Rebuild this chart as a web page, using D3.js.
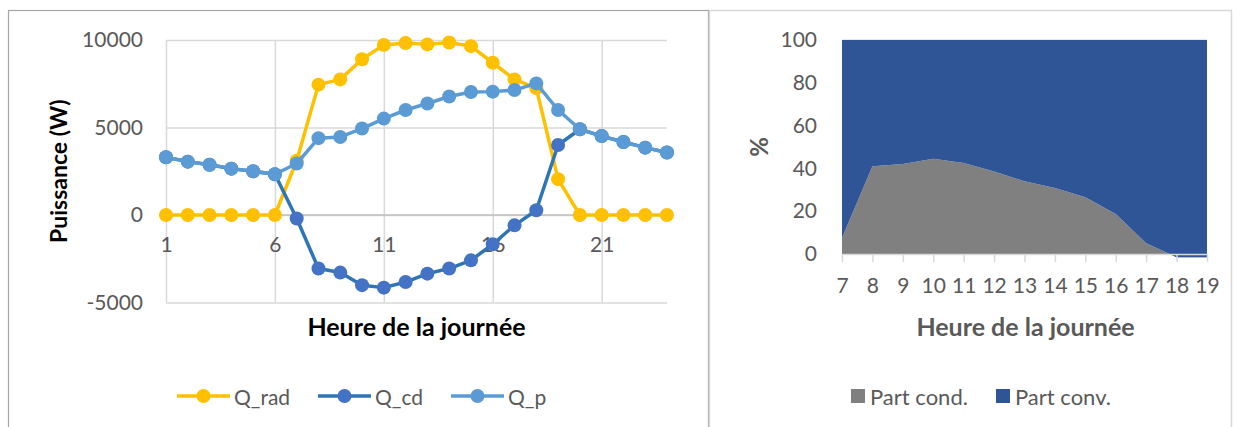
<!DOCTYPE html>
<html>
<head>
<meta charset="utf-8">
<script src="https://cdn.jsdelivr.net/npm/d3@7"></script>
<style>
  body { margin: 0; background: #fff; }
  svg { display: block; }
  text { font-family: Lato, "Open Sans", sans-serif; }
</style>
</head>
<body>
<svg id="chart" width="1252" height="427"></svg>
<script>
// ---- Left chart: heat flows over the day (W) ----
const hours = [1,2,3,4,5,6,7,8,9,10,11,12,13,14,15,16,17,18,19,20,21,22,23,24];
const qRad = [0,0,0,0,0,0,3100,7450,7750,8900,9720,9830,9750,9860,9650,8700,7750,7250,2050,0,0,0,0,0];
const qCd  = [3300,3050,2870,2650,2500,2330,-200,-3060,-3290,-4010,-4150,-3830,-3350,-3060,-2590,-1670,-590,270,4000,4900,4510,4170,3850,3570];
const qP   = [3300,3050,2870,2650,2500,2330,2940,4390,4460,4940,5510,6000,6370,6770,7030,7050,7140,7520,6000,4900,4510,4170,3850,3570];
const powerTicks = [-5000, 0, 5000, 10000];
const hourTicks = [1, 6, 11, 16, 21];

// ---- Right chart: conduction / convection shares (%) ----
const dayHours = [7,8,9,10,11,12,13,14,15,16,17,18,19];
const partCond = [7.5,41,42,44.5,42.5,38.6,34,30.8,26.5,18.7,5,-1.5,-1.5];
const partConv = [92.5,59,58,55.5,57.5,61.4,66,69.2,73.5,81.3,95,101.5,101.5];
const pctTicks = [0,20,40,60,80,100];

const svg = d3.select("#chart");
const tickGray = "#595959";
const plain = d => String(d);   // "-5000", no thousands separator

// chart frames
svg.append("rect").attr("x", 8.5).attr("y", 10.5).attr("width", 700).attr("height", 450)
  .attr("fill", "none").attr("stroke", "#a6a6a6").attr("stroke-width", 1.2);
svg.append("rect").attr("x", 709.5).attr("y", 10.5).attr("width", 522).attr("height", 450)
  .attr("fill", "none").attr("stroke", "#d9d9d9").attr("stroke-width", 1.5);

// ================= Left chart =================
const L = { x0: 166, x1: 667, yTop: 40, yBot: 302.5 };
const x1 = d3.scalePoint().domain(hours).range([L.x0, L.x1]);
const y1 = d3.scaleLinear().domain([-5000, 10000]).range([L.yBot, L.yTop]);

const gL = svg.append("g");

// horizontal gridlines
gL.append("g").attr("transform", `translate(${L.x0},0)`)
  .call(d3.axisLeft(y1).tickValues(powerTicks).tickSize(-(L.x1 - L.x0)).tickFormat(""))
  .call(g => g.select(".domain").remove())
  .call(g => g.selectAll("line").attr("stroke", "#d9d9d9").attr("stroke-width", 1.5));

// vertical gridlines
gL.append("g").attr("transform", `translate(0,${L.yBot})`)
  .call(d3.axisBottom(x1).tickValues(hourTicks).tickSize(-(L.yBot - L.yTop)).tickFormat(""))
  .call(g => g.select(".domain").remove())
  .call(g => g.selectAll("line").attr("stroke", "#d9d9d9").attr("stroke-width", 1.5));

// horizontal axis line at zero
gL.append("line").attr("x1", L.x0).attr("x2", L.x1).attr("y1", y1(0)).attr("y2", y1(0))
  .attr("stroke", "#bfbfbf").attr("stroke-width", 1.5);

// y tick labels
gL.append("g").attr("transform", `translate(${L.x0},0)`)
  .call(d3.axisLeft(y1).tickValues(powerTicks).tickFormat(plain).tickSize(0).tickPadding(23))
  .call(g => g.select(".domain").remove())
  .call(g => g.selectAll("text").attr("fill", tickGray).style("font-size", "21px").attr("font-family", null));

// x tick labels (axis crosses at zero)
gL.append("g").attr("transform", `translate(0,${y1(0)})`)
  .call(d3.axisBottom(x1).tickValues(hourTicks).tickFormat(plain).tickSize(0).tickPadding(22))
  .call(g => g.select(".domain").remove())
  .call(g => g.selectAll("text").attr("fill", tickGray).style("font-size", "21px").attr("font-family", null));

const series = [
  { name: "Q_rad", values: qRad, line: "#FFC000", marker: "#FFC000" },
  { name: "Q_cd",  values: qCd,  line: "#2E75B6", marker: "#4472C4" },
  { name: "Q_p",   values: qP,   line: "#5B9BD5", marker: "#5B9BD5" }
];

const lineGen = d3.line().x((d, i) => x1(hours[i])).y(d => y1(d));

series.forEach(s => {
  const g = gL.append("g");
  g.append("path").datum(s.values).attr("d", lineGen)
    .attr("fill", "none").attr("stroke", s.line).attr("stroke-width", 3.5).attr("stroke-linejoin", "round");
  g.selectAll("circle").data(s.values).join("circle")
    .attr("cx", (d, i) => x1(hours[i])).attr("cy", d => y1(d)).attr("r", 7)
    .attr("fill", s.marker);
});

// axis titles
gL.append("text").attr("transform", `translate(58,${(L.yTop + L.yBot) / 2}) rotate(-90)`)
  .attr("text-anchor", "middle").attr("dominant-baseline", "central")
  .style("font-size", "23px").style("font-weight", "bold").attr("fill", "#000")
  .text("Puissance (W)");
gL.append("text").attr("x", (L.x0 + L.x1) / 2).attr("y", 326)
  .attr("text-anchor", "middle").attr("dominant-baseline", "central")
  .style("font-size", "25px").style("font-weight", "bold").attr("fill", "#000")
  .text("Heure de la journée");

// legend
const legL = [
  { s: series[0], x: 177 },
  { s: series[1], x: 318 },
  { s: series[2], x: 451 }
];
legL.forEach(({ s, x }) => {
  const g = gL.append("g").attr("transform", `translate(${x},396)`);
  g.append("line").attr("x1", 0).attr("x2", 53).attr("stroke", s.line).attr("stroke-width", 3.5);
  g.append("circle").attr("cx", 26.5).attr("r", 7).attr("fill", s.marker);
  g.append("text").attr("x", 57).attr("dominant-baseline", "central")
    .style("font-size", "21px").attr("fill", tickGray).text(s.name);
});

// ================= Right chart =================
const R = { x0: 842, x1: 1207, yTop: 40, yBot: 254 };
const x2 = d3.scalePoint().domain(dayHours).range([R.x0, R.x1]);
const y2 = d3.scaleLinear().domain([0, 100]).range([R.yBot, R.yTop]);
const gR = svg.append("g");

gR.append("line").attr("x1", R.x0).attr("x2", R.x1).attr("y1", y2(100)).attr("y2", y2(100))
  .attr("stroke", "#e6dfd5").attr("stroke-width", 1.5);

const stackData = dayHours.map((h, i) => ({ h, cond: partCond[i], conv: partConv[i] }));
const areaCond = d3.area().x(d => x2(d.h)).y0(y2(0)).y1(d => y2(d.cond));
const areaConv = d3.area().x(d => x2(d.h)).y0(d => y2(d.cond)).y1(d => y2(d.cond + d.conv));

gR.append("path").datum(stackData).attr("d", areaCond).attr("fill", "#808080");
gR.append("path").datum(stackData).attr("d", areaConv).attr("fill", "#2F5597");

// x axis with tick marks
gR.append("g").attr("transform", `translate(0,${R.yBot})`)
  .call(d3.axisBottom(x2).tickValues(dayHours).tickFormat(plain).tickSize(8).tickSizeOuter(0).tickPadding(16))
  .call(g => g.select(".domain").attr("stroke", "#d9d9d9").attr("stroke-width", 1.5))
  .call(g => g.selectAll(".tick line").attr("stroke", "#d9d9d9").attr("stroke-width", 1.5))
  .call(g => g.selectAll("text").attr("fill", tickGray).style("font-size", "21px").attr("font-family", null));

// y tick labels
gR.append("g").attr("transform", `translate(${R.x0},0)`)
  .call(d3.axisLeft(y2).tickValues(pctTicks).tickFormat(plain).tickSize(0).tickPadding(25))
  .call(g => g.select(".domain").remove())
  .call(g => g.selectAll("text").attr("fill", tickGray).style("font-size", "21px").attr("font-family", null));

gR.append("text").attr("transform", `translate(758,${(R.yTop + R.yBot) / 2}) rotate(-90)`)
  .attr("text-anchor", "middle").attr("dominant-baseline", "central")
  .style("font-size", "24px").style("font-weight", "bold").attr("fill", tickGray)
  .text("%");
gR.append("text").attr("x", (R.x0 + R.x1) / 2 + 1).attr("y", 326)
  .attr("text-anchor", "middle").attr("dominant-baseline", "central")
  .style("font-size", "25px").style("font-weight", "bold").attr("fill", tickGray)
  .text("Heure de la journée");

const legR = [
  { name: "Part cond.", color: "#808080", x: 851 },
  { name: "Part conv.", color: "#2F5597", x: 996 }
];
legR.forEach(d => {
  const g = gR.append("g").attr("transform", `translate(${d.x},396)`);
  g.append("rect").attr("x", 0).attr("y", -7).attr("width", 14).attr("height", 14).attr("fill", d.color);
  g.append("text").attr("x", 19).attr("dominant-baseline", "central")
    .style("font-size", "22px").attr("fill", tickGray).text(d.name);
});
</script>
</body>
</html>
